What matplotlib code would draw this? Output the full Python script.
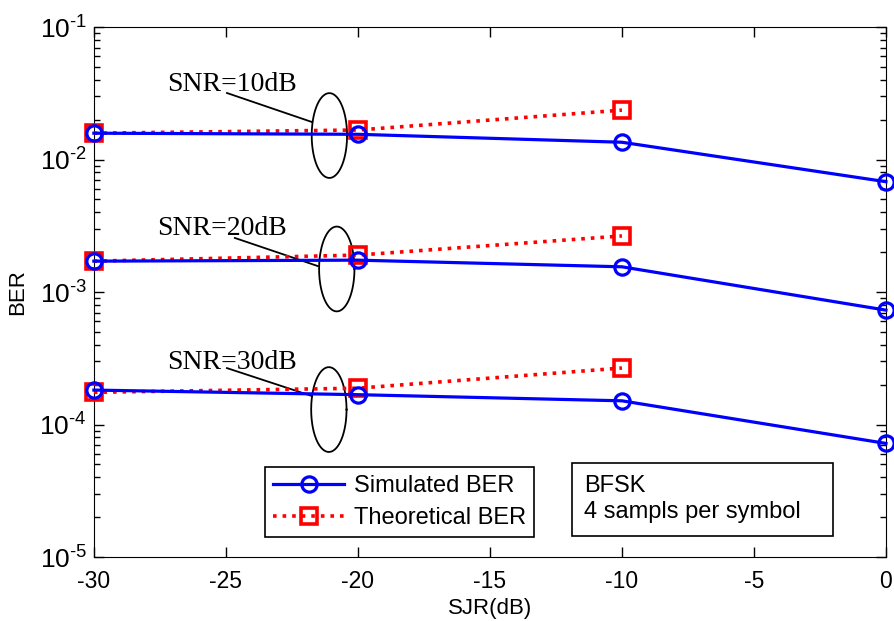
import numpy as np
import matplotlib
matplotlib.use('Agg')
import matplotlib.pyplot as plt
from matplotlib.patches import Rectangle
from matplotlib.ticker import FuncFormatter

# SJR values (dB)
sjr_sim = [-30, -20, -10, 0]
sjr_theo = [-30, -20, -10]

# simulated BER for SNR = 10, 20, 30 dB
sim_10 = [1.58e-2, 1.55e-2, 1.35e-2, 6.8e-3]
sim_20 = [1.71e-3, 1.74e-3, 1.55e-3, 7.3e-4]
sim_30 = [1.82e-4, 1.68e-4, 1.51e-4, 7.2e-5]

# theoretical BER
theo_10 = [1.58e-2, 1.67e-2, 2.36e-2]
theo_20 = [1.71e-3, 1.90e-3, 2.65e-3]
theo_30 = [1.75e-4, 1.88e-4, 2.67e-4]

snr_labels = ['SNR=10dB', 'SNR=20dB', 'SNR=30dB']

plt.rcParams['font.family'] = ['Liberation Sans', 'DejaVu Sans']
plt.rcParams['mathtext.fontset'] = 'custom'
plt.rcParams['mathtext.rm'] = 'Liberation Sans'
plt.rcParams['mathtext.it'] = 'Liberation Sans'
plt.rcParams['axes.unicode_minus'] = False

fig = plt.figure(figsize=(8.94, 6.21), dpi=100)
ax = fig.add_axes([0.105, 0.103, 0.886, 0.8535])

sim_style = dict(color='blue', linestyle='-', linewidth=2.3, marker='o', markersize=11,
                 markerfacecolor='none', markeredgewidth=2.3, clip_on=False, zorder=4)
theo_style = dict(color='red', linestyle=':', linewidth=2.6, marker='s', markersize=12,
                  markerfacecolor='none', markeredgewidth=2.6, clip_on=False, zorder=3)

for i, (s, t) in enumerate([(sim_10, theo_10), (sim_20, theo_20), (sim_30, theo_30)]):
    ax.plot(sjr_theo, t, label='Theoretical BER' if i == 0 else None, **theo_style)
    ax.plot(sjr_sim, s, label='Simulated BER' if i == 0 else None, **sim_style)

# annotations: text, pointer line, ellipse (x, log10 y)
notes = [
    ((-27.23, -1.48), (-24.96, -1.498), (-21.74, -1.717), (-21.08, -1.819)),
    ((-27.60, -2.57), (-24.66, -2.592), (-21.52, -2.804), (-20.80, -2.826)),
    ((-27.23, -3.58), (-24.96, -3.574), (-21.74, -3.785), (-21.10, -3.887)),
]
t = np.linspace(0, 2 * np.pi, 200)
for lab, (txt, p0, p1, c) in zip(snr_labels, notes):
    ax.text(txt[0], 10 ** txt[1], lab, family='Liberation Serif', fontsize=20,
            ha='left', va='baseline')
    ax.plot([p0[0], p1[0]], [10 ** p0[1], 10 ** p1[1]], color='black', linewidth=1.3)
    ax.plot(c[0] + 0.67 * np.cos(t), 10 ** (c[1] + 0.32 * np.sin(t)), color='black', linewidth=1.3)

ax.set_yscale('log')
ax.set_xlim(-30, 0)
ax.set_ylim(1e-5, 1e-1)
ax.set_xticks([-30, -25, -20, -15, -10, -5, 0])
ax.yaxis.set_major_formatter(FuncFormatter(
    lambda v, pos: r'$10^{\text{%d}}$' % round(np.log10(v))))
ax.tick_params(which='both', direction='in', top=True, right=True)
ax.tick_params(axis='x', labelsize=16.5, pad=9)
ax.tick_params(axis='y', labelsize=19, pad=5)
ax.tick_params(which='major', length=7, width=1)
ax.tick_params(which='minor', length=4, width=1)
ax.set_xlabel('SJR(dB)', fontsize=16, labelpad=4)
ax.set_ylabel('BER', fontsize=16, labelpad=8)

handles, labels = ax.get_legend_handles_labels()
order = [labels.index('Simulated BER'), labels.index('Theoretical BER')]
leg = ax.legend([handles[k] for k in order], [labels[k] for k in order],
                loc='lower left', bbox_to_anchor=(0.216, 0.0377), borderaxespad=0,
                fontsize=17, fancybox=False, edgecolor='black', framealpha=1,
                handlelength=3.0, handletextpad=0.4, labelspacing=0.4, borderpad=0.35)
leg.get_frame().set_linewidth(1.2)

ax.add_patch(Rectangle((0.6035, 0.0396), 0.3295, 0.1377, transform=ax.transAxes,
                       facecolor='white', edgecolor='black', linewidth=1.2, zorder=5))
ax.text(0.619, 0.123, 'BFSK', transform=ax.transAxes, fontsize=17, va='baseline', zorder=6)
ax.text(0.619, 0.0736, '4 sampls per symbol', transform=ax.transAxes, fontsize=17,
        va='baseline', zorder=6)

fig.savefig('out.png', dpi=100)
